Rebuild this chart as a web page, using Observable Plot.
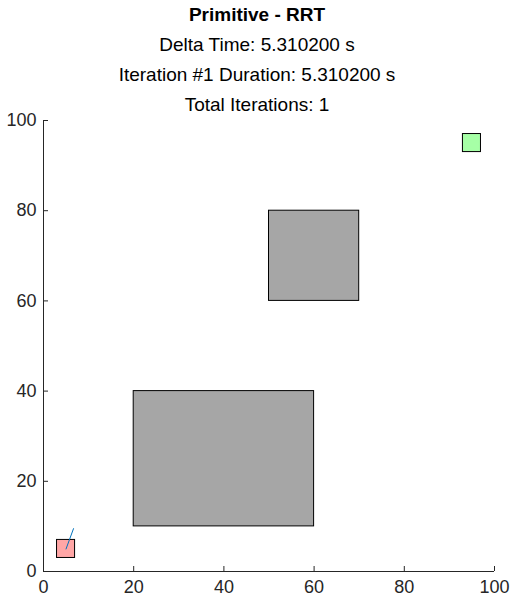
<!DOCTYPE html>
<html><head><meta charset="utf-8">
<script src="https://cdn.jsdelivr.net/npm/d3@7"></script>
<script src="https://cdn.jsdelivr.net/npm/@observablehq/plot@0.6"></script>
<style>
body{margin:0;background:#fff;font-family:"Liberation Sans",Arial,sans-serif;}
#title{height:110px;text-align:center;color:#000;font-size:19px;line-height:30px;padding-top:0}
#title b{display:block}
</style></head><body>
<div id="title"><b>Primitive - RRT</b>Delta Time: 5.310200 s<br>Iteration #1 Duration: 5.310200 s<br>Total Iterations: 1</div>
<div id="chart"></div>
<script>
// obstacles [x1, y1, x2, y2]
const obstacles = [[20, 10, 60, 40], [50, 60, 70, 80]]
const start = [3, 3, 7, 7]
const goal = [93, 93, 97, 97]
const tree = [{x: 5, y: 5}, {x: 6.65, y: 9.5}]
const ticks = [0, 20, 40, 60, 80, 100]

const rect = r => ({x1: r[0], y1: r[1], x2: r[2], y2: r[3]})

let chart = Plot.plot({
  width: 514, height: 494,
  marginTop: 10, marginBottom: 33, marginLeft: 43, marginRight: 20,
  style: {fontSize: "18px", fontFamily: "'Liberation Sans', Arial, sans-serif", color: "#262626"},
  x: {domain: [0, 100], ticks, tickSize: -5, label: null, tickPadding: 14},
  y: {domain: [0, 100], ticks, tickSize: -5, label: null, tickPadding: 12},
  marks: [
    Plot.rect(obstacles.map(rect), {x1: "x1", y1: "y1", x2: "x2", y2: "y2", fill: "#a6a6a6", stroke: "#000", strokeWidth: 1}),
    Plot.rect([rect(start)], {x1: "x1", y1: "y1", x2: "x2", y2: "y2", fill: "#ffa6a6", stroke: "#000", strokeWidth: 1}),
    Plot.rect([rect(goal)], {x1: "x1", y1: "y1", x2: "x2", y2: "y2", fill: "#a6ffa6", stroke: "#000", strokeWidth: 1}),
    Plot.line(tree, {x: "x", y: "y", stroke: "#0072bd", strokeWidth: 1}),
    Plot.ruleX([0], {stroke: "#262626"}),
    Plot.ruleY([0], {stroke: "#262626"})
  ]
})
d3.select('#chart').append(() => chart)
</script>
</body></html>
